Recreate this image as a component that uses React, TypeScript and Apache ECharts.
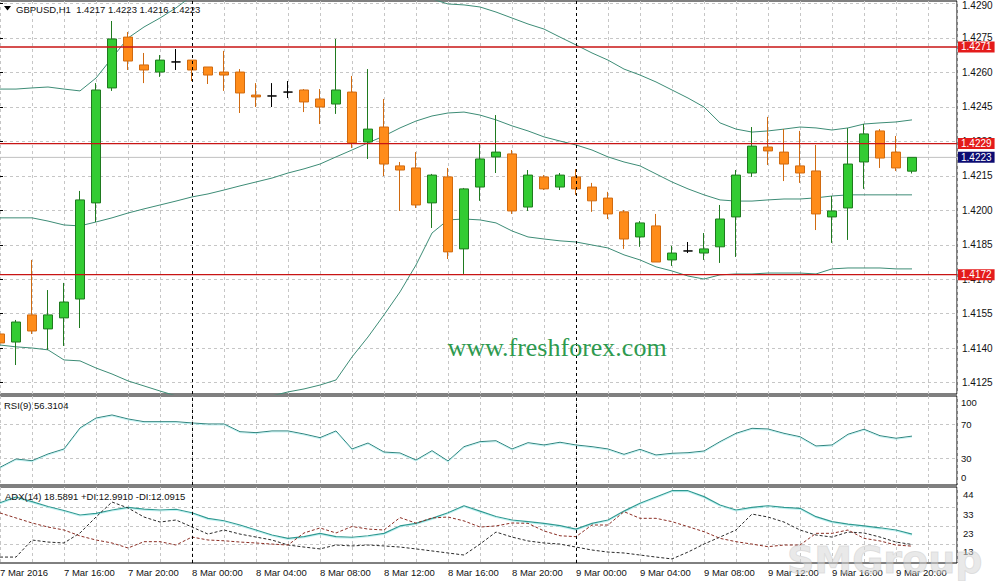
import React, { useEffect, useRef } from 'react';
import * as echarts from 'echarts';

// ---- Price candles (hourly, 7 Mar 12:00 .. 9 Mar 21:00) ----
const opens = [
  1.41462, 1.41427, 1.41545, 1.41484, 1.41532, 1.41614, 1.42032, 1.42532, 1.42753, 1.42632,
  1.42601, 1.42645, 1.42653, 1.42623, 1.42601, 1.42601, 1.42501, 1.42497, 1.42514, 1.42523,
  1.42484, 1.42462, 1.42514, 1.42297, 1.42362, 1.42193, 1.42184, 1.42032, 1.42145, 1.41832,
  1.42101, 1.42232, 1.42245, 1.42014, 1.42145, 1.42101, 1.42145, 1.42101, 1.42053, 1.41993,
  1.41884, 1.41932, 1.41784, 1.41823, 1.41814, 1.41841, 1.41971, 1.42162, 1.42275, 1.42253,
  1.42193, 1.42171, 1.41971, 1.42010, 1.42210, 1.42345, 1.42253, 1.42170,
];
const highs = [
  1.41532, 1.41523, 1.41784, 1.41653, 1.41684, 1.42084, 1.42553, 1.42823, 1.42775, 1.42684,
  1.42675, 1.42701, 1.42653, 1.42623, 1.42693, 1.42614, 1.42553, 1.42553, 1.42562, 1.42527,
  1.42527, 1.42745, 1.42584, 1.42614, 1.42484, 1.42210, 1.42253, 1.42158, 1.42184, 1.42097,
  1.42288, 1.42414, 1.42262, 1.42175, 1.42153, 1.42162, 1.42179, 1.42119, 1.42080, 1.42001,
  1.41953, 1.41984, 1.41845, 1.41862, 1.41901, 1.42023, 1.42175, 1.42362, 1.42406, 1.42353,
  1.42345, 1.42284, 1.42062, 1.42357, 1.42375, 1.42353, 1.42323, 1.42230,
];
const lows = [
  1.41349, 1.41327, 1.41462, 1.41393, 1.41410, 1.41488, 1.41949, 1.42519, 1.42610, 1.42553,
  1.42580, 1.42610, 1.42562, 1.42549, 1.42519, 1.42423, 1.42449, 1.42449, 1.42488, 1.42427,
  1.42375, 1.42419, 1.42271, 1.42223, 1.42149, 1.41997, 1.42010, 1.41923, 1.41788, 1.41723,
  1.42041, 1.42162, 1.41984, 1.41997, 1.42088, 1.42088, 1.42067, 1.41993, 1.41962, 1.41832,
  1.41841, 1.41775, 1.41758, 1.41814, 1.41784, 1.41771, 1.41797, 1.42145, 1.42197, 1.42127,
  1.42119, 1.41914, 1.41858, 1.41871, 1.42093, 1.42184, 1.42171, 1.42160,
];
const closes = [
  1.41423, 1.41514, 1.41475, 1.41545, 1.41601, 1.42045, 1.42523, 1.42745, 1.42649, 1.42610,
  1.42653, 1.42645, 1.42610, 1.42588, 1.42588, 1.42510, 1.42493, 1.42497, 1.42514, 1.42471,
  1.42449, 1.42523, 1.42293, 1.42353, 1.42201, 1.42175, 1.42023, 1.42153, 1.41819, 1.42093,
  1.42223, 1.42253, 1.41997, 1.42153, 1.42093, 1.42153, 1.42093, 1.42041, 1.41984, 1.41875,
  1.41945, 1.41775, 1.41814, 1.41823, 1.41832, 1.41962, 1.42153, 1.42279, 1.42258, 1.42201,
  1.42162, 1.41984, 1.41997, 1.42201, 1.42332, 1.42227, 1.42184, 1.42230,
];

// ---- Bollinger bands ----
const bbUpper = [
  1.42527, 1.42527, 1.42532, 1.42536, 1.42527, 1.42519, 1.42575, 1.42662, 1.42749, 1.42797,
  1.42836, 1.42880, 1.42932, 1.42967, 1.43006, 1.43027, 1.43062, 1.43088, 1.43114, 1.43136,
  1.43162, 1.43201, 1.43162, 1.43136, 1.43101, 1.43071, 1.43014, 1.42919, 1.42897, 1.42893,
  1.42884, 1.42862, 1.42836, 1.42810, 1.42788, 1.42753, 1.42719, 1.42684, 1.42653, 1.42614,
  1.42588, 1.42558, 1.42523, 1.42488, 1.42449, 1.42380, 1.42353, 1.42340, 1.42345, 1.42353,
  1.42362, 1.42358, 1.42349, 1.42358, 1.42375, 1.42380, 1.42384, 1.42393,
];
const bbMiddle = [
  1.41967, 1.41967, 1.41967, 1.41953, 1.41936, 1.41932, 1.41949, 1.41967, 1.41988, 1.42006,
  1.42023, 1.42040, 1.42058, 1.42071, 1.42088, 1.42106, 1.42123, 1.42140, 1.42162, 1.42180,
  1.42201, 1.42232, 1.42262, 1.42293, 1.42323, 1.42358, 1.42388, 1.42410, 1.42423, 1.42427,
  1.42414, 1.42393, 1.42367, 1.42345, 1.42319, 1.42301, 1.42284, 1.42262, 1.42232, 1.42210,
  1.42193, 1.42158, 1.42123, 1.42093, 1.42067, 1.42045, 1.42040, 1.42040, 1.42045, 1.42049,
  1.42049, 1.42054, 1.42062, 1.42067, 1.42067, 1.42067, 1.42067, 1.42067,
];
const bbLower = [
  1.41414, 1.41406, 1.41401, 1.41393, 1.41349, 1.41345, 1.41314, 1.41288, 1.41258, 1.41236,
  1.41214, 1.41193, 1.41184, 1.41175, 1.41171, 1.41175, 1.41184, 1.41193, 1.41210, 1.41223,
  1.41240, 1.41262, 1.41362, 1.41449, 1.41545, 1.41645, 1.41762, 1.41901, 1.41958, 1.41962,
  1.41958, 1.41945, 1.41910, 1.41884, 1.41875, 1.41867, 1.41862, 1.41849, 1.41836, 1.41806,
  1.41784, 1.41754, 1.41736, 1.41714, 1.41701, 1.41719, 1.41723, 1.41723, 1.41727, 1.41727,
  1.41727, 1.41723, 1.41745, 1.41749, 1.41749, 1.41749, 1.41745, 1.41745,
];

// ---- RSI(9) ----
const rsi = [
  19.6, 29.4, 27.4, 35.3, 41.2, 65.9, 77.6, 81.2, 76.5, 73.3,
  73.3, 73.3, 71.8, 70.6, 70.6, 61.5, 60.4, 62.4, 62.4, 58.8,
  54.5, 62.4, 41.2, 48.2, 37.6, 36.5, 28.2, 39.2, 27.1, 43.9,
  49.8, 50.9, 41.2, 48.6, 45.9, 49.1, 45.9, 43.9, 41.2, 34.9,
  40.8, 34.1, 36.1, 36.8, 38.8, 49.8, 59.6, 65.5, 64.7, 59.6,
  55.6, 44.7, 45.9, 58.5, 64.4, 56.8, 53.8, 56.3,
];

// ---- ADX(14) ----
const adx = [
  35.5, 38.6, 36.1, 33.5, 31.3, 28.9, 29.8, 31.6, 33.0, 32.1,
  31.6, 32.0, 30.1, 27.1, 25.8, 23.5, 20.8, 18.1, 16.3, 17.2,
  19.0, 17.2, 16.9, 17.7, 19.0, 23.0, 24.4, 27.1, 30.1, 33.9,
  31.0, 28.1, 26.2, 25.3, 24.4, 23.2, 21.3, 24.4, 26.2, 31.0,
  35.2, 38.6, 42.0, 42.0, 38.8, 34.3, 31.6, 33.0, 33.9, 33.0,
  32.5, 28.0, 25.3, 24.0, 23.0, 22.0, 20.8, 18.6,
];
const plusDI = [
  6.2, 6.2, 15.4, 14.3, 13.8, 19.2, 27.8, 35.9, 32.7, 27.8,
  25.1, 26.2, 22.4, 18.6, 20.8, 18.6, 17.0, 15.4, 12.7, 11.6,
  10.6, 12.7, 12.2, 12.7, 12.2, 11.6, 10.6, 9.5, 8.4, 7.3,
  13.2, 19.7, 17.0, 14.9, 13.8, 13.2, 11.6, 10.0, 8.9, 8.4,
  7.3, 6.2, 5.2, 8.9, 13.2, 17.0, 20.8, 29.4, 27.8, 25.1,
  20.8, 18.1, 17.0, 19.7, 19.2, 17.0, 14.3, 13.0,
];
const minusDI = [
  30.0, 27.3, 24.6, 22.4, 20.8, 17.6, 15.4, 13.8, 11.1, 14.5,
  14.5, 12.7, 17.0, 15.4, 15.0, 14.3, 13.8, 13.2, 12.7, 19.2,
  21.9, 19.2, 22.7, 21.3, 20.8, 27.5, 24.5, 27.3, 27.8, 25.7,
  22.4, 23.0, 24.6, 24.4, 20.3, 17.7, 17.2, 23.5, 23.5, 30.7,
  27.1, 27.1, 25.3, 22.6, 19.9, 16.3, 14.5, 13.2, 11.8, 12.7,
  12.7, 19.0, 19.0, 20.8, 16.3, 14.9, 12.7, 12.1,
];

// ---- axes / levels ----
const xTickLabels = [
  '7 Mar 2016', '7 Mar 16:00', '7 Mar 20:00', '8 Mar 00:00', '8 Mar 04:00', '8 Mar 08:00',
  '8 Mar 12:00', '8 Mar 16:00', '8 Mar 20:00', '9 Mar 00:00', '9 Mar 04:00', '9 Mar 08:00',
  '9 Mar 12:00', '9 Mar 16:00', '9 Mar 20:00',
];
const priceTicks = [1.4125, 1.414, 1.4155, 1.417, 1.4185, 1.42, 1.4215, 1.423, 1.4245, 1.426, 1.4275, 1.429];
const rsiLabels = [0, 30, 70, 100];
const rsiLevels = [30, 70];
const adxLabels = [3, 13, 23, 33, 44];
const adxGridLevels = [13, 23, 33];
const redLevels = [1.4271, 1.4229, 1.4172];
const bidPrice = 1.4223;
const daySeparators = [12, 36];

const X_MIN = -2;
const X_MAX = 59.8125;
const FONT = '"Liberation Sans", Arial, sans-serif';
const GRID_DASH = { color: '#c6c6c6', type: [3, 3] as number[], width: 1 };

export default function App() {
  const ref = useRef<HTMLDivElement>(null);

  useEffect(() => {
    document.body.style.margin = '0';
    document.body.style.overflow = 'hidden';
    const chart = echarts.init(ref.current!, undefined, { renderer: 'svg' });

    const candleData = opens.map((o, k) => [k, o, closes[k], lows[k], highs[k]]);
    const xy = (arr: number[]) => arr.map((v, k) => [k, v]);

    const gridBase = {
      left: -32, width: 989, show: true, borderColor: '#000', borderWidth: 1,
      backgroundColor: '#fff', containLabel: false, outerBoundsMode: 'none',
    };

    const xAxisFor = (gridIndex: number, labels: boolean) => ({
      type: 'value', gridIndex, min: X_MIN, max: X_MAX, interval: 2,
      axisLine: { show: false }, axisTick: { show: false },
      splitLine: { show: true, lineStyle: GRID_DASH },
      axisLabel: labels
        ? {
            show: true, interval: 0, align: 'left', margin: 4, fontSize: 9.5,
            color: '#111', fontFamily: FONT, hideOverlap: false,
            formatter: (v: number) => {
              if (v < 0 || Math.abs(v % 4) > 1e-6) return '';
              return xTickLabels[Math.round(v / 4)] ?? '';
            },
          }
        : { show: false },
    });

    // day separators (vertical dashed) via mark lines
    const sepHelper = (gi: number) => ({
      type: 'line', xAxisIndex: gi, yAxisIndex: gi, data: [], clip: false, silent: true, z: 6,
      markLine: {
        silent: true, symbol: ['none', 'none'], animation: false, precision: 6,
        lineStyle: { color: '#000', type: [3, 3], width: 1 }, label: { show: false },
        data: daySeparators.map((v) => ({ xAxis: v })),
      },
    });

    // horizontal price level as a 2-point line with a boxed end label
    const levelSeries = (v: number, lineColor: string, width: number, boxColor: string, z: number) => ({
      type: 'line', xAxisIndex: 0, yAxisIndex: 0, data: [[X_MIN, v], [X_MAX, v]],
      symbol: 'none', silent: true, clip: false, z,
      lineStyle: { color: lineColor, width, type: 'solid' },
      endLabel: {
        show: true, formatter: () => v.toFixed(4), distance: 1,
        backgroundColor: boxColor, color: '#fff', padding: [1, 3, 0, 3], fontSize: 10, fontFamily: FONT,
      },
    });

    const option: any = {
      animation: false,
      backgroundColor: '#fff',
      textStyle: { fontFamily: FONT },
      grid: [
        { ...gridBase, top: 1, height: 393 },
        { ...gridBase, top: 396, height: 89 },
        { ...gridBase, top: 487, height: 76 },
      ],
      xAxis: [xAxisFor(0, false), xAxisFor(1, false), xAxisFor(2, true)],
      yAxis: [
        {
          type: 'value', gridIndex: 0, position: 'right', min: 1.41201, max: 1.4291,
          axisLine: { show: false },
          axisTick: { show: true, length: 3, lineStyle: { color: '#000' }, customValues: priceTicks },
          axisLabel: {
            show: true, customValues: priceTicks, margin: 5, fontSize: 10, color: '#111', fontFamily: FONT,
            formatter: (v: number) => (v >= 1.429 ? '{t|' + v.toFixed(4) + '}' : v.toFixed(4)),
            rich: { t: { padding: [4, 0, 0, 0], fontSize: 10, color: '#111', fontFamily: FONT } },
          },
          splitLine: { show: true, lineStyle: GRID_DASH },
        },
        {
          type: 'value', gridIndex: 1, position: 'right', min: -1.2, max: 103.5,
          axisLine: { show: false },
          axisTick: { show: false, customValues: rsiLevels },
          axisLabel: {
            show: true, customValues: rsiLabels, margin: 4, fontSize: 9.5, color: '#111', fontFamily: FONT,
            formatter: (v: number) => (v === 100 ? '{t|100}' : v === 0 ? '{b|0}' : String(v)),
            rich: {
              t: { padding: [8, 0, 0, 0], fontSize: 9.5, color: '#111', fontFamily: FONT },
              b: { padding: [0, 0, 12, 0], fontSize: 9.5, color: '#111', fontFamily: FONT },
            },
          },
          splitLine: { show: true, lineStyle: GRID_DASH },
        },
        {
          type: 'value', gridIndex: 2, position: 'right', min: 3, max: 44,
          axisLine: { show: false },
          axisTick: { show: false, customValues: adxGridLevels },
          axisLabel: {
            show: true, customValues: adxLabels, margin: 6, fontSize: 9.5, color: '#111', fontFamily: FONT,
            formatter: (v: number) => (v === 3 ? '{b|3}' : '{t|' + v + '}'),
            rich: {
              t: { padding: [15, 0, 0, 0], fontSize: 9.5, color: '#111', fontFamily: FONT },
              b: { padding: [0, 0, 11, 0], fontSize: 9.5, color: '#111', fontFamily: FONT },
            },
          },
          splitLine: { show: true, lineStyle: GRID_DASH },
        },
      ],
      series: [
        {
          type: 'line', name: 'BB upper', xAxisIndex: 0, yAxisIndex: 0, data: xy(bbUpper),
          symbol: 'none', silent: true, clip: true, lineStyle: { color: '#3d8c76', width: 1 }, z: 3,
        },
        {
          type: 'line', name: 'BB middle', xAxisIndex: 0, yAxisIndex: 0, data: xy(bbMiddle),
          symbol: 'none', silent: true, clip: true, lineStyle: { color: '#3d8c76', width: 1 }, z: 3,
        },
        {
          type: 'line', name: 'BB lower', xAxisIndex: 0, yAxisIndex: 0, data: xy(bbLower),
          symbol: 'none', silent: true, clip: true, lineStyle: { color: '#3d8c76', width: 1 }, z: 3,
        },
        sepHelper(0),
        levelSeries(bidPrice, '#c0c0c0', 1, '#0c0c72', 2),
        ...redLevels.map((v) => levelSeries(v, '#c81414', 1.3, '#e41b1b', 5)),
        {
          type: 'candlestick', name: 'GBPUSD,H1', xAxisIndex: 0, yAxisIndex: 0,
          data: candleData, encode: { x: 0, y: [1, 2, 3, 4] }, barWidth: 9, silent: true, z: 4,
          itemStyle: {
            color: '#33cc33', color0: '#ff8c1a',
            borderColor: '#1f7a1f', borderColor0: '#d06a10', borderColorDoji: '#000', borderWidth: 1,
          },
        },
        sepHelper(1),
        {
          type: 'line', name: 'RSI(9)', xAxisIndex: 1, yAxisIndex: 1, data: xy(rsi),
          symbol: 'none', silent: true,
          lineStyle: { color: '#2f857f', width: 1, shadowColor: 'rgba(150,235,235,0.6)', shadowBlur: 1, shadowOffsetY: 1 },
        },
        sepHelper(2),
        {
          type: 'line', name: 'ADX(14)', xAxisIndex: 2, yAxisIndex: 2, data: xy(adx),
          symbol: 'none', silent: true,
          lineStyle: { color: '#2f9a92', width: 1.2, shadowColor: 'rgba(150,235,235,0.6)', shadowBlur: 1, shadowOffsetY: 1 },
        },
        {
          type: 'line', name: '+DI', xAxisIndex: 2, yAxisIndex: 2, data: xy(plusDI),
          symbol: 'none', silent: true, lineStyle: { color: '#2a2a2a', width: 1, type: [3, 2] },
        },
        {
          type: 'line', name: '-DI', xAxisIndex: 2, yAxisIndex: 2, data: xy(minusDI),
          symbol: 'none', silent: true, lineStyle: { color: '#8b2e24', width: 1, type: [3, 2] },
        },
      ],
      graphic: [
        { type: 'polygon', z: 100, shape: { points: [[4, 6], [11, 6], [7.5, 10.5]] }, style: { fill: '#000' } },
        {
          type: 'text', z: 100,
          style: { text: 'GBPUSD,H1  1.4217 1.4223 1.4216 1.4223', x: 16, y: 9, verticalAlign: 'middle', font: '9.5px ' + FONT, fill: '#111' },
        },
        {
          type: 'text', z: 100,
          style: { text: 'RSI(9) 56.3104', x: 4, y: 405, verticalAlign: 'middle', font: '9.5px ' + FONT, fill: '#111' },
        },
        {
          type: 'text', z: 100,
          style: { text: 'ADX(14) 18.5891 +DI:12.9910 -DI:12.0915', x: 5, y: 496, verticalAlign: 'middle', font: '9.5px ' + FONT, fill: '#111' },
        },
        {
          type: 'text', z: 100,
          style: { text: 'www.freshforex.com', x: 557, y: 347, align: 'center', verticalAlign: 'middle', font: '26px "Liberation Serif", "Times New Roman", serif', fill: '#2e9a4f' },
        },
        {
          type: 'text', z: 100,
          style: {
            text: 'SMGroup', x: 787, y: 560, verticalAlign: 'middle', font: 'bold 38px "DejaVu Sans", sans-serif',
            fill: 'rgba(215,215,215,0.55)', stroke: 'rgba(170,170,170,0.35)', lineWidth: 1,
          },
        },
      ],
    };

    chart.setOption(option);
    return () => chart.dispose();
  }, []);

  return <div ref={ref} style={{ width: 999, height: 581 }} />;
}
